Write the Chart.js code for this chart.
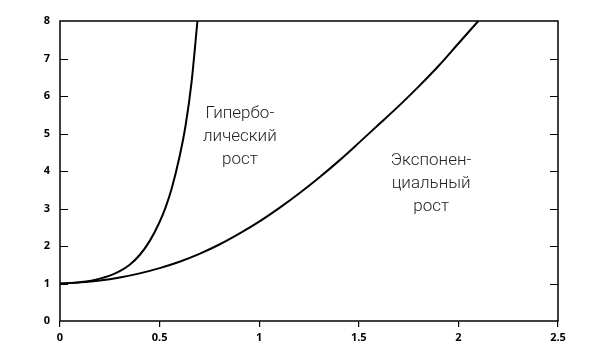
<!DOCTYPE html>
<html>
<head>
<meta charset="utf-8">
<script src="https://cdn.jsdelivr.net/npm/chart.js@4"></script>
<style>
html,body{margin:0;padding:0;background:#fff;}
#wrap{width:600px;height:360px;position:relative;}
</style>
</head>
<body>
<div id="wrap"><canvas id="c" width="600" height="360"></canvas></div>
<script>
// Hyperbolic growth curve
const hypX = [0, 0.05, 0.1, 0.15, 0.2, 0.25, 0.3, 0.35, 0.4, 0.45, 0.5, 0.53, 0.56, 0.6, 0.63, 0.66, 0.69];
const hypY = [1, 1.01, 1.035, 1.07, 1.13, 1.21, 1.33, 1.5, 1.76, 2.13, 2.64, 3.03, 3.52, 4.38, 5.2, 6.35, 8.0];
// Exponential growth curve
const expX = [0, 0.1, 0.2, 0.3, 0.4, 0.5, 0.6, 0.7, 0.8, 0.9, 1.0, 1.1, 1.2, 1.3, 1.4, 1.5, 1.6, 1.7, 1.8, 1.9, 2.0, 2.1];
const expY = [1, 1.03, 1.08, 1.16, 1.27, 1.41, 1.58, 1.79, 2.04, 2.33, 2.65, 3.01, 3.4, 3.82, 4.27, 4.75, 5.24, 5.73, 6.25, 6.8, 7.4, 8.0];
// Axis ticks
const xTicks = [0, 0.5, 1, 1.5, 2, 2.5];
const yTicks = [0, 1, 2, 3, 4, 5, 6, 7, 8];
// Annotations
const hypLabel = ["Гипербо-", "лический", "рост"];
const expLabel = ["Экспонен-", "циальный", "рост"];
const hypLabelPos = [0.903, 4.91];
const expLabelPos = [1.863, 3.66];

const toPts = (xs, ys) => xs.map((x, i) => ({x: x, y: ys[i]}));

const boxPlugin = {
  id: 'box',
  afterDatasetsDraw(chart) {
    const {ctx, chartArea: a, scales: {x, y}} = chart;
    ctx.save();
    ctx.strokeStyle = '#000';
    ctx.lineWidth = 1.5;
    ctx.strokeRect(a.left, a.top, a.right - a.left, a.bottom - a.top);
    ctx.lineWidth = 1.2;
    ctx.beginPath();
    yTicks.forEach(v => {
      if (v === yTicks[0] || v === yTicks[yTicks.length - 1]) return;
      const py = Math.round(y.getPixelForValue(v)) + 0.5;
      ctx.moveTo(a.left, py); ctx.lineTo(a.left + 8, py);
      ctx.moveTo(a.right, py); ctx.lineTo(a.right - 8, py);
    });
    ctx.stroke();
    // annotation text
    ctx.fillStyle = '#222';
    ctx.font = '300 17px Roboto, "Open Sans", sans-serif';
    ctx.textAlign = 'center';
    ctx.textBaseline = 'middle';
    const drawLines = (lines, pos) => {
      const cx = x.getPixelForValue(pos[0]);
      const cy = y.getPixelForValue(pos[1]);
      lines.forEach((t, i) => ctx.fillText(t, cx, cy + (i - 1) * 23));
    };
    drawLines(hypLabel, hypLabelPos);
    drawLines(expLabel, expLabelPos);
    ctx.restore();
  }
};

new Chart(document.getElementById('c'), {
  type: 'scatter',
  data: {
    datasets: [
      {data: toPts(hypX, hypY), showLine: true, borderColor: '#000', borderWidth: 2, pointRadius: 0, cubicInterpolationMode: 'monotone', fill: false},
      {data: toPts(expX, expY), showLine: true, borderColor: '#000', borderWidth: 2, pointRadius: 0, cubicInterpolationMode: 'monotone', fill: false}
    ]
  },
  options: {
    responsive: false,
    animation: false,
    devicePixelRatio: 1,
    layout: {padding: {left: 0, right: 42, top: 21, bottom: 0}},
    plugins: {legend: {display: false}, tooltip: {enabled: false}},
    scales: {
      x: {
        type: 'linear', min: 0, max: 2.5,
        afterBuildTicks: s => { s.ticks = xTicks.map(v => ({value: v})); },
        afterFit: s => { s.height = 39; },
        border: {display: false},
        grid: {display: true, drawOnChartArea: false, drawTicks: true, tickLength: 6, color: '#000', lineWidth: 1.2},
        ticks: {color: '#000', padding: 4, font: {family: '"Open Sans", "Liberation Sans", sans-serif', size: 11, weight: 'bold'}, maxRotation: 0,
          callback: v => String(v)}
      },
      y: {
        type: 'linear', min: 0, max: 8,
        afterBuildTicks: s => { s.ticks = yTicks.map(v => ({value: v})); },
        afterFit: s => { s.width = 60; },
        border: {display: false},
        grid: {display: false, drawTicks: false},
        ticks: {color: '#000', padding: 10, font: {family: '"Open Sans", "Liberation Sans", sans-serif', size: 11, weight: 'bold'},
          callback: v => String(v)}
      }
    }
  },
  plugins: [boxPlugin]
});
</script>
</body>
</html>
